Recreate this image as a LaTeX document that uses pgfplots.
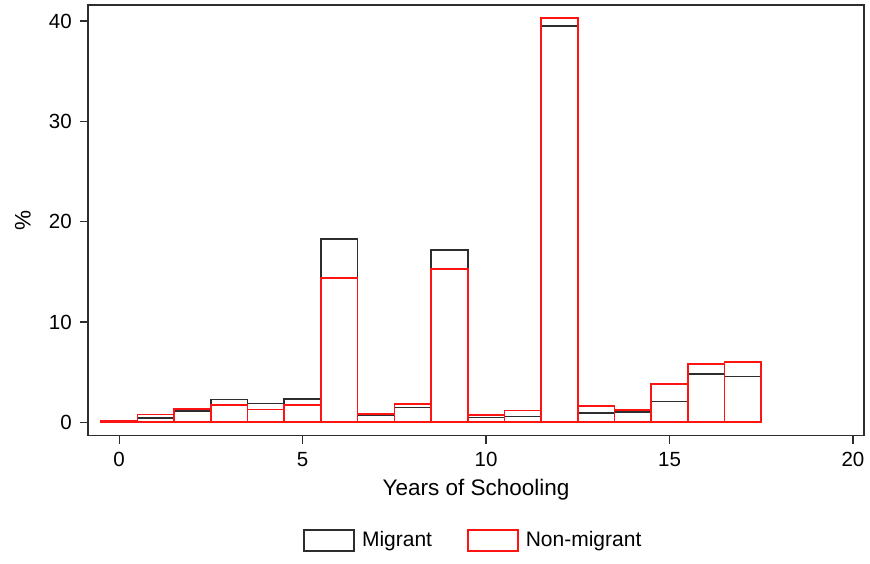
\documentclass[border=0pt]{standalone}
\usepackage{fontspec}
\setmainfont{Liberation Sans}
\usepackage{pgfplots}
\pgfplotsset{compat=1.18}
\definecolor{mig}{RGB}{45,45,45}
\definecolor{non}{RGB}{255,20,20}
\begin{document}
\fontsize{21}{26}\selectfont
\begin{tikzpicture}
\useasboundingbox (-88pt,-127.3pt) rectangle ++(870pt,563pt);
\begin{axis}[
  at={(0,0)}, anchor=south west,
  scale only axis,
  width=776pt, height=430.7pt,
  xmin=-0.85, xmax=20.3,
  ymin=-1.34, ymax=41.6,
  xtick={0,5,10,15,20},
  ytick={0,10,20,30,40},
  axis line style={mig, line width=1.5pt},
  tick style={mig, line width=1.2pt},
  tick align=outside,
  major tick length=8pt,
  xtick pos=bottom, ytick pos=left,
  /pgf/number format/assume math mode=true,
  tick label style={font=\fontsize{20.5}{25}\selectfont},
  xticklabel style={yshift=-1pt},
  yticklabel style={xshift=-1pt},
  xlabel={Years of Schooling},
  ylabel={\%},
  label style={font=\fontsize{22.5}{27}\selectfont},
  xlabel style={yshift=1pt},
  ylabel style={yshift=4pt},
  legend columns=2,
  legend style={draw=none, at={(0.4965,-0.212)}, anchor=north,
    font=\fontsize{21}{26}\selectfont,
    /tikz/every even column/.append style={column sep=33pt}},
  legend image code/.code={\draw[#1, fill=none] (0pt,-10.5pt) rectangle (50pt,10.5pt); \path[draw=none,fill=none] (0pt,0pt) -- (56pt,0pt);},
]
\addplot[ybar, bar width=1, bar shift=0pt, draw=mig, fill=none, line width=1.6pt] coordinates {
(0,0.1) (1,0.4) (2,1.13) (3,2.26) (4,1.86) (5,2.29) (6,18.3) (7,0.7) (8,1.46)
(9,17.2) (10,0.46) (11,0.56) (12,39.5) (13,0.9) (14,1.03) (15,2.06) (16,4.82) (17,4.55)
};
\addlegendentry{Migrant}
\addplot[ybar, bar width=1, bar shift=0pt, draw=non, fill=none, line width=1.6pt] coordinates {
(0,0.1) (1,0.76) (2,1.33) (3,1.73) (4,1.26) (5,1.73) (6,14.36) (7,0.8) (8,1.83)
(9,15.26) (10,0.73) (11,1.16) (12,40.3) (13,1.6) (14,1.23) (15,3.82) (16,5.79) (17,5.98)
};
\addlegendentry{Non-migrant}
\end{axis}
\end{tikzpicture}
\end{document}
